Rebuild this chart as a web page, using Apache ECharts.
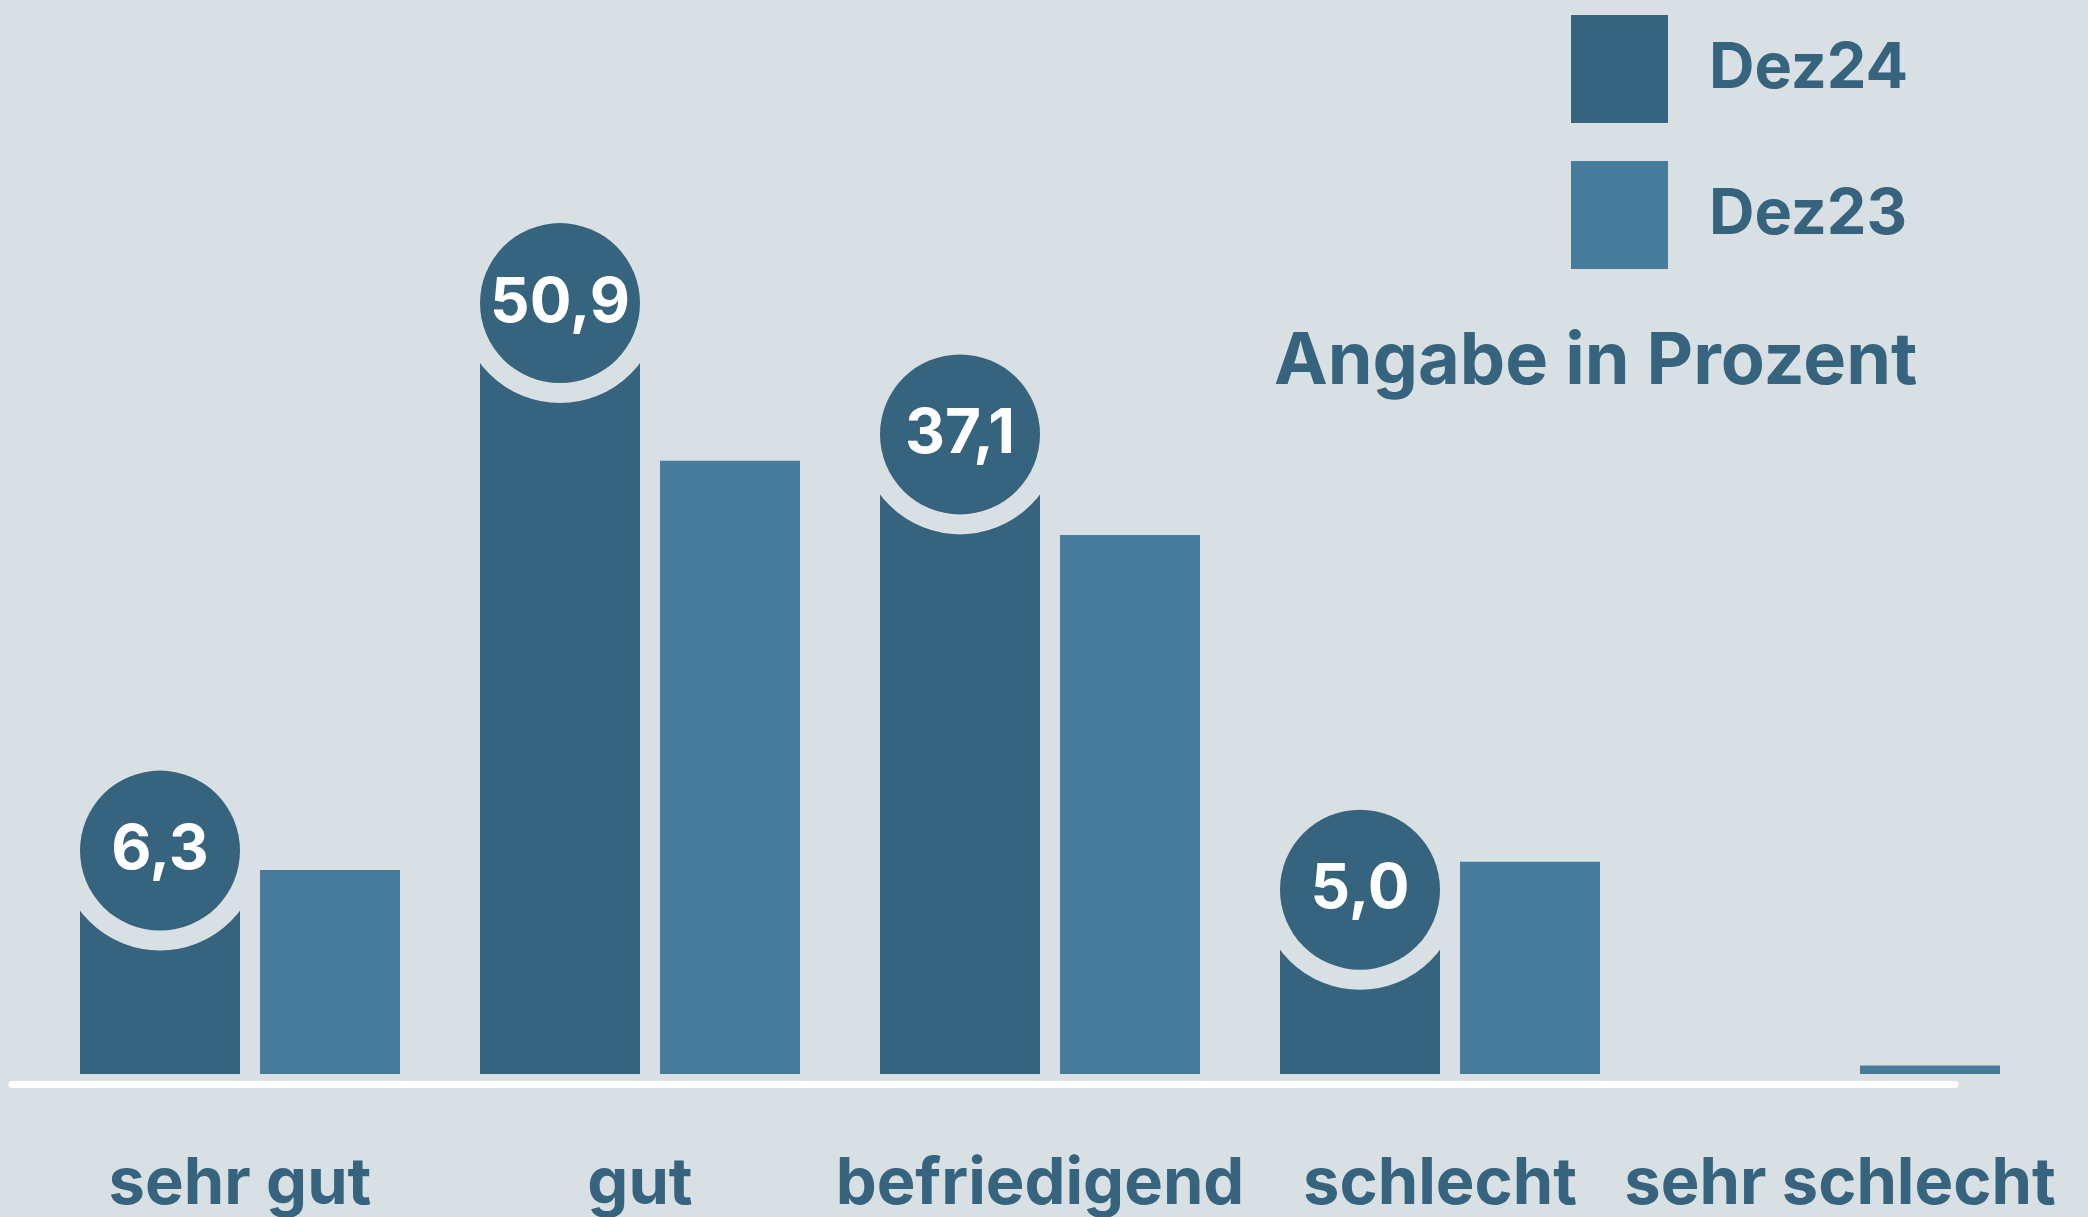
<!DOCTYPE html>
<html>
<head>
<meta charset="utf-8">
<script src="https://cdn.jsdelivr.net/npm/echarts@6/dist/echarts.min.js"></script>
<style>
  html, body { margin: 0; padding: 0; background: #d8e0e4; }
  #chart { width: 2088px; height: 1217px; }
</style>
</head>
<body>
<div id="chart"></div>
<script>
// Kategorien und Werte
const categories = ['sehr gut', 'gut', 'befriedigend', 'schlecht', 'sehr schlecht'];
const dez24Labels = [6.3, 50.9, 37.1, 5.0, null];      // Zahlen in den Kreisen
const dez24Bars = [11.7, 50.9, 41.5, 8.9, null];       // Balkenhöhen wie gezeichnet
const dez23Bars = [14.6, 43.9, 38.6, 15.2, 0.6];

const bg = '#d8e0e4';
const dark = '#36637d';
const light = '#487c9c';
const font = 'Inter, "Noto Sans", sans-serif';

const chart = echarts.init(document.getElementById('chart'));

chart.setOption({
  backgroundColor: bg,
  animation: false,
  title: {
    text: 'Angabe in Prozent',
    left: 1269,
    top: 321,
    textStyle: { fontFamily: font, fontSize: 72, fontWeight: 'bold', color: dark }
  },
  legend: {
    data: ['Dez24', 'Dez23'],
    orient: 'vertical',
    left: 1566,
    top: 10,
    itemWidth: 97,
    itemHeight: 108,
    itemGap: 38,
    icon: 'rect',
    textStyle: {
      fontFamily: font,
      fontSize: 63,
      fontWeight: 'bold',
      color: dark,
      padding: [0, 0, 0, 36]
    }
  },
  grid: [
    { left: 40, right: 48, top: 236, bottom: 141 },
    // nur für die weiße Grundlinie
    { left: 12, right: 133, top: 1000, bottom: 133 }
  ],
  xAxis: [{
    type: 'category',
    data: categories,
    axisLine: { show: false },
    axisTick: { show: false },
    axisLabel: {
      margin: 78,
      interval: 0,
      fontFamily: font,
      fontSize: 65,
      fontWeight: 'bold',
      color: dark
    }
  }, {
    type: 'value',
    gridIndex: 1,
    axisLine: { show: true, lineStyle: { color: '#ffffff', width: 7 } },
    axisTick: { show: false },
    axisLabel: { show: false },
    splitLine: { show: false }
  }],
  yAxis: [{
    type: 'value',
    min: 0,
    max: 60,
    show: false
  }, {
    type: 'value',
    gridIndex: 1,
    show: false
  }],
  series: [{
    name: 'Dez24',
    type: 'bar',
    barWidth: 160,
    barGap: '12.5%',
    itemStyle: { color: dark },
    label: {
      show: true,
      position: 'top',
      distance: 60,
      width: 160,
      height: 160,
      lineHeight: 160,
      align: 'center',
      verticalAlign: 'middle',
      backgroundColor: dark,
      borderColor: bg,
      borderWidth: 20,
      borderRadius: 80,
      color: '#ffffff',
      fontFamily: font,
      fontSize: 62,
      fontWeight: 'bold',
      formatter: p => dez24Labels[p.dataIndex] == null ? '' :
        dez24Labels[p.dataIndex].toFixed(1).replace('.', ',')
    },
    data: dez24Bars.map((v, i) => dez24Labels[i] == null ? { value: v, label: { show: false } } : v)
  }, {
    name: 'Dez23',
    type: 'bar',
    barWidth: 140,
    itemStyle: { color: light },
    data: dez23Bars
  }]
});
</script>
</body>
</html>
